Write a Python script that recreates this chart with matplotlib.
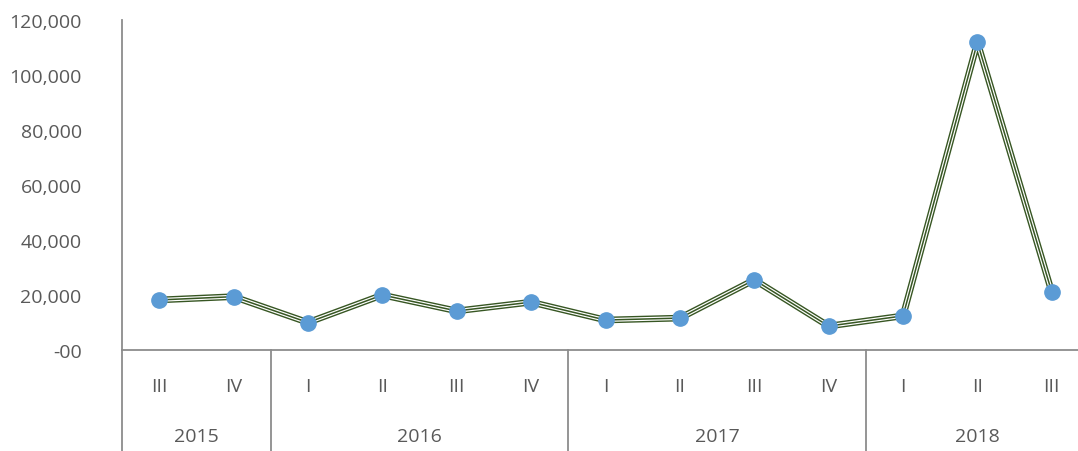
import matplotlib
matplotlib.use("Agg")
import matplotlib.pyplot as plt
from matplotlib.ticker import FuncFormatter

plt.rcParams["font.family"] = ["Open Sans", "DejaVu Sans"]

quarters = ["III", "IV", "I", "II", "III", "IV", "I", "II", "III", "IV", "I", "II", "III"]
years = ["2015", "2016", "2017", "2018"]
year_counts = [2, 4, 4, 3]
values = [18200, 19400, 10000, 20000, 14200, 17400, 10900, 11600, 25500, 8700, 12400, 111900, 21000]

grey = "#595959"
axis_col = "#8c8c8c"
green = "#375623"
blue = "#5b9bd5"


def fmt(v, pos):
    if v == 0:
        return "-00"
    return "{:,.0f}".format(v)


def main():
    fig = plt.figure(figsize=(10.78, 4.52), dpi=100)
    ax = fig.add_axes([122 / 1078, 101 / 452, 967 / 1078, 330 / 452])

    x = list(range(len(values)))
    # compound line: dark / white / dark
    ax.plot(x, values, color=green, lw=4.8, solid_joinstyle="round", zorder=2)
    ax.plot(x, values, color="white", lw=2.8, solid_joinstyle="round", zorder=3)
    ax.plot(x, values, color=green, lw=1.1, solid_joinstyle="round", zorder=4)
    ax.plot(x, values, "o", color=blue, ms=11, mec=blue, zorder=5)

    ax.set_xlim(-0.5, len(values) - 0.5)
    ax.set_ylim(0, 120000)
    ax.set_yticks(range(0, 120001, 20000))
    ax.yaxis.set_major_formatter(FuncFormatter(fmt))
    ax.tick_params(axis="y", length=0, pad=29, labelsize=14, labelcolor=grey)
    ax.set_xticks([])

    for s in ["top", "right"]:
        ax.spines[s].set_visible(False)
    ax.spines["left"].set_color(axis_col)
    ax.spines["bottom"].set_color(axis_col)
    ax.spines["left"].set_linewidth(1.3)
    ax.spines["bottom"].set_linewidth(1.3)

    tr = ax.get_xaxis_transform()
    bottom = -101 / 330
    for i, q in enumerate(quarters):
        ax.text(i, -36 / 330, q, transform=tr, ha="center", va="center",
                fontsize=14, color=grey)

    start = 0
    for yr, n in zip(years, year_counts):
        ax.plot([start - 0.5, start - 0.5], [0, bottom], transform=tr,
                color=axis_col, lw=1.3, clip_on=False)
        mid = start + (n - 1) / 2
        ax.text(mid, -86 / 330, yr, transform=tr, ha="center", va="center",
                fontsize=14, color=grey)
        start += n

    fig.savefig("out.png", dpi=100)


if __name__ == "__main__":
    main()
